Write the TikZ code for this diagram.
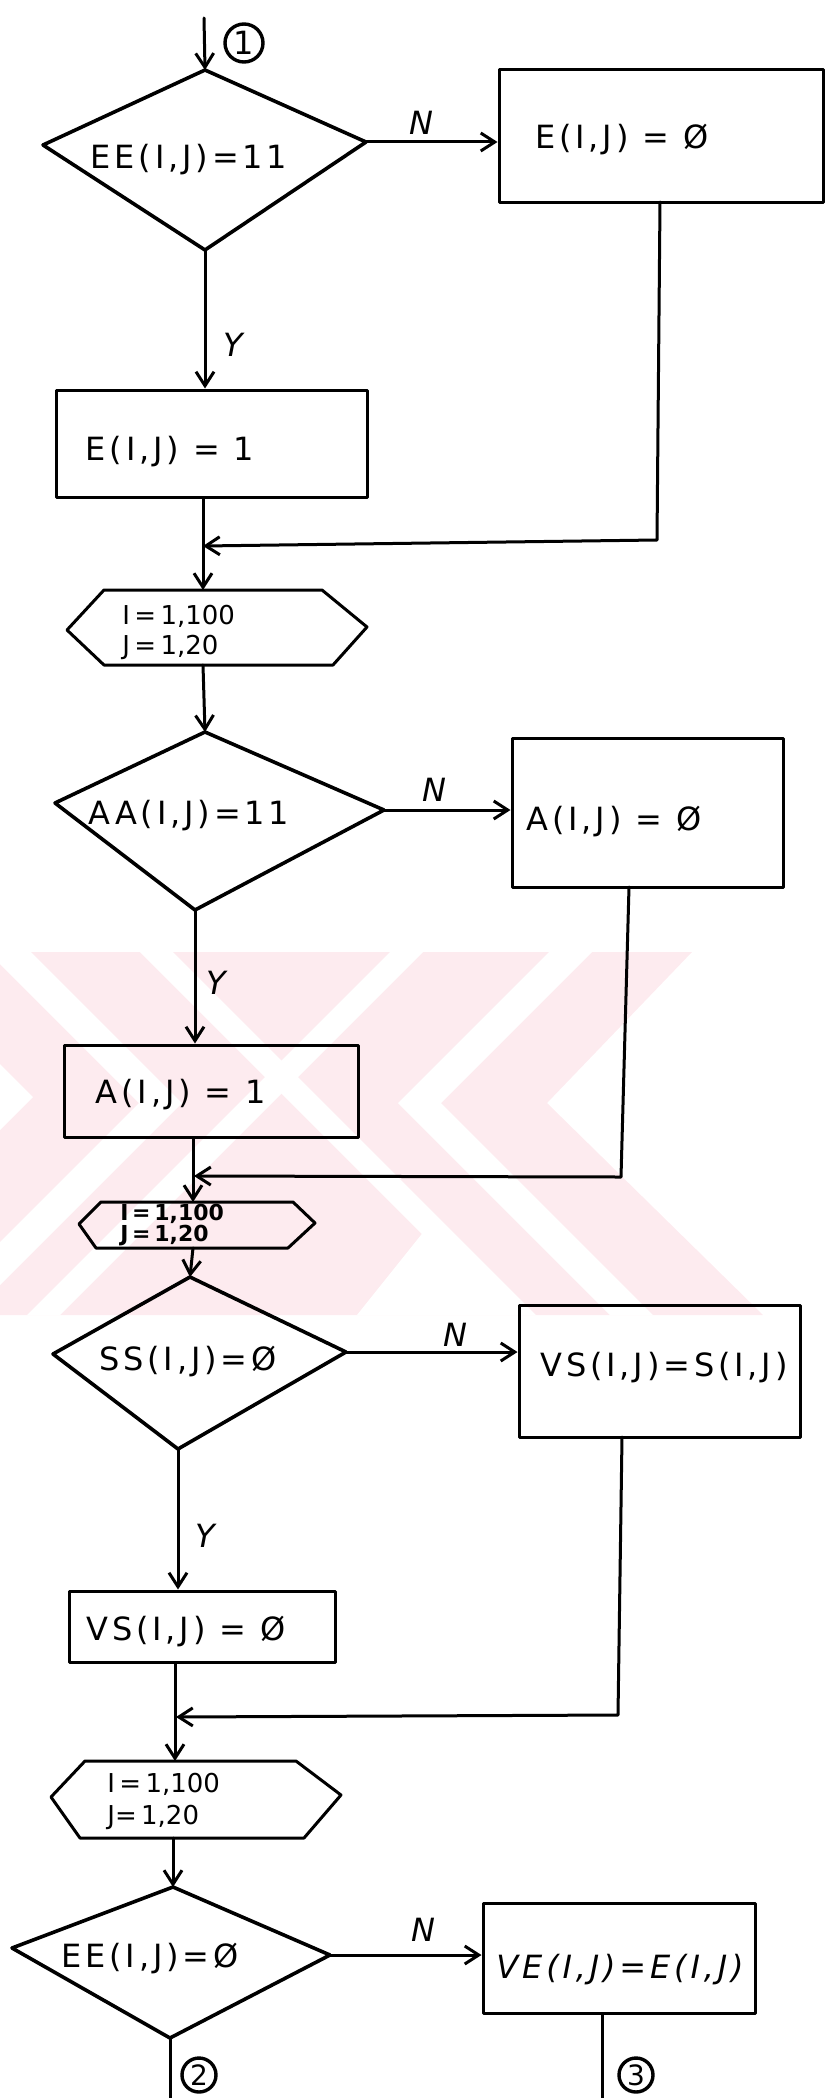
\documentclass[tikz,border=0pt]{standalone}
\usepackage{fontspec}
\setmainfont{DejaVu Sans}
\newfontfamily\hand{DejaVu Sans}[LetterSpace=12]
\newfontfamily\handn{DejaVu Sans}
\usetikzlibrary{arrows.meta,calc}
\definecolor{wm}{RGB}{253,235,239}
\tikzset{
  ink/.style={line width=1.5pt, line join=round, line cap=round},
  dia/.style={ink, line width=1.8pt},
  arr/.style={ink, -{Straight Barb[length=7pt,width=9pt]}},
  boxst/.style={draw, ink, inner sep=0pt},
  lbl/.style={font=\hand\fontsize{16}{19}\selectfont, inner sep=0pt},
  lblit/.style={font=\hand\itshape\fontsize{16}{19}\selectfont, inner sep=0pt},
  yn/.style={font=\handn\itshape\fontsize{16}{19}\selectfont, inner sep=0pt},
  hexlbl/.style={font=\handn\fontsize{13}{15}\selectfont, align=left, anchor=west, inner sep=0pt},
  hexsmall/.style={font=\handn\bfseries\fontsize{11}{9.5}\selectfont, align=left, anchor=west, inner sep=0pt},
  hexthree/.style={font=\handn\fontsize{13}{16}\selectfont, align=left, anchor=west, inner sep=0pt},
  numc/.style={draw, circle, ink, line width=1.7pt, inner sep=0pt, font=\handn\fontsize{14}{16}\selectfont}
}
\begin{document}
\begin{tikzpicture}[x=0.5pt,y=-0.5pt]
\useasboundingbox (0,0) rectangle (835,2098);
% ---------- watermark ----------
\begin{scope}
\clip (0,952) rectangle (835,1315);
\fill[wm] (0,952) -- (692,952) -- (547,1103) -- (763,1315) -- (0,1315) -- cycle;
\fill[white] (549,952) -- (592,952) -- (441,1103) -- (653,1315) -- (610,1315) -- (398,1103) -- cycle;
\fill[white] (390,952) -- (423,952) -- (60,1315) -- (27,1315) -- cycle;
\fill[white] (140,952) -- (173,952) -- (536,1315) -- (503,1315) -- cycle;
\fill[white] (-12,952) -- (31,952) -- (182,1103) -- (-30,1315) -- (-73,1315) -- (139,1103) -- cycle;
\fill[white] (0,1064) -- (33,1097) -- (0,1130) -- cycle;
\fill[white] (433,1220) -- (510,1315) -- (357,1315) -- cycle;
\end{scope}

% ---------- block 1 ----------
\coordinate (s1) at (204,18);
\coordinate (d1t) at (205,70);
\coordinate (d1r) at (366,142);
\coordinate (d1b) at (205,250);
\coordinate (d1l) at (43,145);
\draw[dia] (d1t) -- (d1r) -- (d1b) -- (d1l) -- cycle;
\node[lbl] (t1) at (189,160) {EE(I,J)=11};
\node[numc, minimum size=19pt, font=\handn\fontsize{16}{18}\selectfont] (c1) at (244,43) {1};
\draw[arr] (s1) -- (d1t);
\node[yn] (n1) at (421,123) {N};
\node[boxst, minimum width=162pt, minimum height=66pt] (b1) at (661,136) {};
\node[lbl] (t2) at (622,140) {E(I,J) = Ø};
\draw[arr] (d1r) -- (d1r -| b1.west);
\node[yn] (y1) at (233,345) {Y};
\node[boxst, minimum width=155.5pt, minimum height=53.5pt] (b2) at (211.5,443.5) {};
\node[lbl] (t3) at (170,452) {E(I,J) = 1};
\draw[arr] (d1b) -- (d1b |- b2.north);
\coordinate (m1r) at (657,540);
\coordinate (m1) at (203,546);
\coordinate (v1) at (660,202);
\draw[arr] (v1) -- (m1r) -- (m1);

% hexagon 1
\coordinate (h1t) at (203,590);
\coordinate (h1b) at (203,665);
\coordinate (h1l) at (67,630);
\coordinate (h1tl) at (104,590);
\coordinate (h1tr) at (322,590);
\coordinate (h1r) at (367,627);
\coordinate (h1br) at (333,665);
\coordinate (h1bl) at (104,665);
\draw[ink] (h1l) -- (h1tl) -- (h1tr) -- (h1r) -- (h1br) -- (h1bl) -- cycle;
\node[hexlbl] (x1) at (122,632) {I\,=\,1,100\\J\,=\,1,20};
\draw[arr] (b2.south -| h1t) -- (h1t);

% ---------- block 2 ----------
\coordinate (d2t) at (205,732);
\coordinate (d2r) at (384,810);
\coordinate (d2b) at (195,910);
\coordinate (d2l) at (55,803);
\draw[arr] (h1b) -- (d2t);
\draw[dia] (d2t) -- (d2r) -- (d2b) -- (d2l) -- cycle;
\node[lbl] (t4) at (189,816) {AA(I,J)=11};
\node[yn] (n2) at (434,790) {N};
\node[boxst, minimum width=135.5pt, minimum height=74.5pt] (b3) at (647.5,812.5) {};
\node[lbl] (t5) at (614,822) {A(I,J) = Ø};
\draw[arr] (d2r) -- (d2r -| b3.west);
\node[yn] (y2) at (216,983) {Y};
\node[boxst, minimum width=147pt, minimum height=46pt] (b4) at (211,1091) {};
\node[lbl] (t6) at (181,1095) {A(I,J) = 1};
\draw[arr] (d2b) -- (d2b |- b4.north);
\coordinate (v2) at (629,887);
\coordinate (m2r) at (621,1177);
\coordinate (m2) at (194,1176);
\draw[arr] (v2) -- (m2r) -- (m2);

% hexagon 2
\coordinate (h2t) at (193,1202);
\coordinate (h2b) at (193,1248);
\coordinate (h2l) at (79,1224);
\coordinate (h2tl) at (101,1202);
\coordinate (h2tr) at (293,1202);
\coordinate (h2r) at (315,1223);
\coordinate (h2br) at (288,1248);
\coordinate (h2bl) at (96,1248);
\draw[ink] (h2l) -- (h2tl) -- (h2tr) -- (h2r) -- (h2br) -- (h2bl) -- cycle;
\node[hexsmall] (x2) at (120,1225) {I\,=\,1,100\\J\,=\,1,20};
\draw[arr] (b4.south -| h2t) -- (h2t);

% ---------- block 3 ----------
\coordinate (d3t) at (190,1277);
\coordinate (d3r) at (346,1352);
\coordinate (d3b) at (178,1449);
\coordinate (d3l) at (53,1354);
\draw[arr] (h2b) -- (d3t);
\draw[dia] (d3t) -- (d3r) -- (d3b) -- (d3l) -- cycle;
\node[lbl] (t7) at (188,1362) {SS(I,J)=Ø};
\node[yn] (n3) at (455,1335) {N};
\node[boxst, minimum width=140.5pt, minimum height=66pt] (b5) at (659.5,1371) {};
\node[lbl] (t8) at (664,1368) {VS(I,J)=S(I,J)};
\draw[arr] (d3r) -- (d3r -| b5.west);
\node[yn] (y3) at (205,1536) {Y};
\node[boxst, minimum width=133pt, minimum height=35.5pt] (b6) at (202,1626.5) {};
\node[lbl] (t9) at (186,1632) {VS(I,J) = Ø};
\draw[arr] (d3b) -- (d3b |- b6.north);
\coordinate (v3) at (622,1437);
\coordinate (m3r) at (618,1715);
\coordinate (m3) at (176,1717);
\draw[arr] (v3) -- (m3r) -- (m3);

% hexagon 3
\coordinate (h3t) at (175,1761);
\coordinate (h3b) at (173,1838);
\coordinate (h3l) at (51,1797);
\coordinate (h3tl) at (85,1761);
\coordinate (h3tr) at (296,1761);
\coordinate (h3r) at (341,1795);
\coordinate (h3br) at (304,1838);
\coordinate (h3bl) at (80,1838);
\draw[ink] (h3l) -- (h3tl) -- (h3tr) -- (h3r) -- (h3br) -- (h3bl) -- cycle;
\node[hexthree] (x3) at (107,1801) {I\,=\,1,100\\J=\,1,20};
\draw[arr] (b6.south -| h3t) -- (h3t);

% ---------- block 4 ----------
\coordinate (d4t) at (173,1887);
\coordinate (d4r) at (330,1955);
\coordinate (d4b) at (170,2038);
\coordinate (d4l) at (12,1948);
\draw[arr] (h3b) -- (d4t);
\draw[dia] (d4t) -- (d4r) -- (d4b) -- (d4l) -- cycle;
\node[lbl] (t10) at (150,1958) {EE(I,J)=Ø};
\node[yn] (n4) at (423,1930) {N};
\node[boxst, minimum width=136pt, minimum height=55pt] (b7) at (619,1958) {};
\node[lblit] (t11) at (620,1970) {VE(I,J)=E(I,J)};
\draw[arr] (d4r) -- (d4r -| b7.west);
\coordinate (e2) at (170,2098);
\coordinate (e3) at (602,2098);
\draw[ink] (d4b) -- (e2);
\draw[ink] (b7.south -| e3) -- (e3);
\node[numc, minimum size=17pt] (c2) at (199,2075) {2};
\node[numc, minimum size=17pt] (c3) at (636,2075) {3};
\end{tikzpicture}
\end{document}
